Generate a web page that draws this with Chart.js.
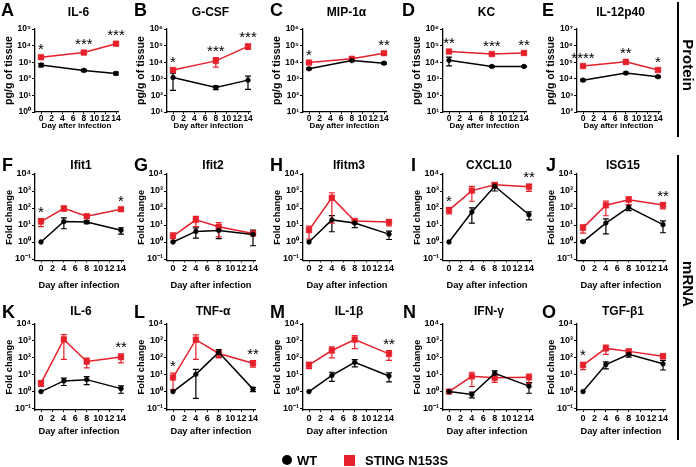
<!DOCTYPE html>
<html>
<head>
<meta charset="utf-8">
<script src="https://cdn.jsdelivr.net/npm/chart.js@4.4.1/dist/chart.umd.min.js"></script>
<style>
  body { margin: 0; background: #fff; }
  #fig { position: relative; width: 696px; height: 467px; overflow: hidden; font-family: "Liberation Sans", Arial, sans-serif; color: #000; }
  #fig canvas { position: absolute; }
  .txt { position: absolute; font-weight: bold; line-height: 1; white-space: nowrap; }
  .letter { font-size: 18px; }
  .ttl { font-size: 12px; width: 120px; text-align: center; }
  .side { font-size: 15px; transform: translate(-50%, -50%) rotate(90deg); }
  .vline { position: absolute; width: 1.5px; background: #000; }
</style>
</head>
<body>
<div id="fig"></div>
<script>
// x values
const proteinDays = [0, 8, 14];
const mrnaDays = [0, 4, 8, 14];
const dayTicks = [0, 2, 4, 6, 8, 10, 12, 14];

// y tick decades (powers of ten)
const decadesA = [0, 1, 2, 3, 4, 5];
const decadesBCD = [1, 2, 3, 4, 5, 6];
const decadesE = [2, 3, 4, 5, 6, 7];
const decadesMrna = [-1, 0, 1, 2, 3, 4];

// A  IL-6 (protein)
const wtA = [680, 320, 210],        wtA_sem = [150, 50, 40];
const stA = [2000, 3800, 13000],    stA_sem = [400, 900, 2500];
const starsA = ['*', '***', '***'];
// B  G-CSF
const wtB = [1200, 300, 830],       wtB_sem = [1000, 80, 600];
const stB = [3400, 12000, 90000],   stB_sem = [700, 7000, 30000];
const starsB = ['*', '***', '***'];
// C  MIP-1a
const wtC = [4000, 12500, 8700],    wtC_sem = [400, 1500, 1000];
const stC = [9500, 16000, 35000],   stC_sem = [1000, 1500, 4000];
const starsC = ['*', '', '**'];
// D  KC
const wtD = [13000, 5500, 5500],    wtD_sem = [7000, 500, 400];
const stD = [44000, 31000, 36000],  stD_sem = [8000, 5000, 8000];
const starsD = ['**', '***', '**'];
// E  IL-12p40
const wtE = [8300, 22000, 13400],   wtE_sem = [1000, 3000, 1500];
const stE = [59000, 105000, 34000], stE_sem = [8000, 30000, 6000];
const starsE = ['****', '**', '*'];

// F  Ifit1
const wtF = [1, 16, 15, 4.9],       wtF_sem = [0, 10, 3, 2];
const stF = [16, 95, 33, 85],       stF_sem = [8, 30, 8, 15];
const starsF = ['*', '', '', '*'];
// G  Ifit2
const wtG = [1, 4.2, 4.8, 2.8],     wtG_sem = [0, 2.5, 3.2, 2.2];
const stG = [2.2, 20, 8, 3.2],      stG_sem = [1.2, 12, 6, 0.6];
const starsG = ['', '', '', ''];
// H  Ifitm3
const wtH = [1, 20, 13, 2.9],       wtH_sem = [0, 16, 6, 1.5];
const stH = [5, 400, 17, 15],       stH_sem = [3.5, 387, 5, 6];
const starsH = ['', '', '', ''];
// I  CXCL10
const wtI = [1, 58, 1900, 40],      wtI_sem = [0, 45, 900, 20];
const stI = [75, 1050, 2300, 1750], stI_sem = [30, 800, 700, 800];
const starsI = ['*', '', '', '**'];
// J  ISG15
const wtJ = [1.05, 13, 110, 10.5],  wtJ_sem = [0.1, 10, 40, 7];
const stJ = [6.8, 145, 310, 150],   stJ_sem = [3.5, 110, 150, 60];
const starsJ = ['', '', '', '**'];
// K  IL-6 (mRNA)
const wtK = [1, 4.3, 5.1, 1.5],     wtK_sem = [0, 2, 2.5, 0.7];
const stK = [3.2, 1230, 60, 110],   stK_sem = [1.2, 1150, 35, 60];
const starsK = ['', '', '', '**'];
// L  TNF-a
const wtL = [1, 10.5, 210, 1.4],    wtL_sem = [0, 10.1, 100, 0.4];
const stL = [6.8, 1180, 180, 48],   stL_sem = [5.5, 1100, 80, 20];
const starsL = ['*', '', '', '**'];
// M  IL-1b
const wtM = [1, 9, 54, 8.3],        wtM_sem = [0, 5, 25, 4.5];
const stM = [38, 270, 1200, 170],   stM_sem = [15, 170, 850, 100];
const starsM = ['', '', '', '**'];
// N  IFN-g
const wtN = [1, 0.68, 12, 2.1],     wtN_sem = [0, 0.25, 5, 1.3];
const stN = [1, 8, 6.5, 7],         stN_sem = [0, 6, 3, 4];
const starsN = ['', '', '', ''];
// O  TGF-b1
const wtO = [1, 40, 160, 44],       wtO_sem = [0, 18, 50, 25];
const stO = [37, 360, 240, 125],    stO_sem = [17, 200, 80, 40];
const starsO = ['*', '', '', ''];

const RED = '#e5202a';
const BLACK = '#000';

// layout per row / column
const rows = [
  { top: 29,  dec: 16.6, gap: 0,   range: 75, cTop: 15,  cH: 120, tick: 8.5, tickPad: 0, xFont: 8,   yFont: 10.6, xPad: 4.2, yLabel: 'pg/g of tissue', titleY: 11.5, letterY: 3 },
  { top: 174, dec: 17,   gap: 1.5, range: 80, cTop: 160, cH: 132, tick: 9,   tickPad: 1, xFont: 9.3, yFont: 9.3,  xPad: 1.4, yLabel: 'Fold change',    titleY: 165,  letterY: 158 },
  { top: 324, dec: 16.9, gap: 1.5, range: 80, cTop: 310, cH: 128, tick: 9,   tickPad: 1, xFont: 9.3, yFont: 9.3,  xPad: 0.7, yLabel: 'Fold change',    titleY: 311,  letterY: 305 }
];
const colDay0 = [41, 173, 309, 449, 583];

const panels = [
  { id: 'A', lx: 1,   title: 'IL-6',     days: proteinDays, decades: decadesA,   wt: wtA, wtSem: wtA_sem, st: stA, stSem: stA_sem, stars: starsA },
  { id: 'B', lx: 134, title: 'G-CSF',    days: proteinDays, decades: decadesBCD, wt: wtB, wtSem: wtB_sem, st: stB, stSem: stB_sem, stars: starsB },
  { id: 'C', lx: 270, title: 'MIP-1α',   days: proteinDays, decades: decadesBCD, wt: wtC, wtSem: wtC_sem, st: stC, stSem: stC_sem, stars: starsC },
  { id: 'D', lx: 402, title: 'KC',       days: proteinDays, decades: decadesBCD, wt: wtD, wtSem: wtD_sem, st: stD, stSem: stD_sem, stars: starsD },
  { id: 'E', lx: 542, title: 'IL-12p40', days: proteinDays, decades: decadesE,   wt: wtE, wtSem: wtE_sem, st: stE, stSem: stE_sem, stars: starsE },
  { id: 'F', lx: 2,   title: 'Ifit1',    days: mrnaDays, decades: decadesMrna, wt: wtF, wtSem: wtF_sem, st: stF, stSem: stF_sem, stars: starsF },
  { id: 'G', lx: 134, title: 'Ifit2',    days: mrnaDays, decades: decadesMrna, wt: wtG, wtSem: wtG_sem, st: stG, stSem: stG_sem, stars: starsG },
  { id: 'H', lx: 270, title: 'Ifitm3',   days: mrnaDays, decades: decadesMrna, wt: wtH, wtSem: wtH_sem, st: stH, stSem: stH_sem, stars: starsH },
  { id: 'I', lx: 411, title: 'CXCL10',   days: mrnaDays, decades: decadesMrna, wt: wtI, wtSem: wtI_sem, st: stI, stSem: stI_sem, stars: starsI },
  { id: 'J', lx: 546, title: 'ISG15',    days: mrnaDays, decades: decadesMrna, wt: wtJ, wtSem: wtJ_sem, st: stJ, stSem: stJ_sem, stars: starsJ },
  { id: 'K', lx: 2,   title: 'IL-6',     days: mrnaDays, decades: decadesMrna, wt: wtK, wtSem: wtK_sem, st: stK, stSem: stK_sem, stars: starsK },
  { id: 'L', lx: 134, title: 'TNF-α',    days: mrnaDays, decades: decadesMrna, wt: wtL, wtSem: wtL_sem, st: stL, stSem: stL_sem, stars: starsL },
  { id: 'M', lx: 270, title: 'IL-1β',    days: mrnaDays, decades: decadesMrna, wt: wtM, wtSem: wtM_sem, st: stM, stSem: stM_sem, stars: starsM },
  { id: 'N', lx: 403, title: 'IFN-γ',    days: mrnaDays, decades: decadesMrna, wt: wtN, wtSem: wtN_sem, st: stN, stSem: stN_sem, stars: starsN },
  { id: 'O', lx: 542, title: 'TGF-β1',   days: mrnaDays, decades: decadesMrna, wt: wtO, wtSem: wtO_sem, st: stO, stSem: stO_sem, stars: starsO }
];

Chart.defaults.font.family = '"Liberation Sans", Arial, sans-serif';
Chart.defaults.color = '#000';

const SUP = { '-': '⁻', '0': '⁰', '1': '¹', '2': '²', '3': '³', '4': '⁴', '5': '⁵', '6': '⁶', '7': '⁷', '8': '⁸', '9': '⁹' };
const sup = n => String(n).split('').map(c => SUP[c]).join('');

// mean +/- SEM whiskers, drawn under the lines
const errorBars = {
  id: 'errorBars',
  beforeDatasetsDraw(chart) {
    const { ctx, scales: { x, y } } = chart;
    ctx.save();
    chart.data.datasets.forEach(ds => {
      ctx.strokeStyle = ds.borderColor;
      ctx.lineWidth = 1.2;
      ds.data.forEach((p, j) => {
        const e = ds.sem[j];
        if (!e) return;
        const px = x.getPixelForValue(p.x);
        const lo = Math.max(p.y - e, y.min);
        const yTop = y.getPixelForValue(p.y + e);
        const yBot = y.getPixelForValue(lo);
        ctx.beginPath();
        ctx.moveTo(px, yTop); ctx.lineTo(px, yBot);
        ctx.moveTo(px - 3, yTop); ctx.lineTo(px + 3, yTop);
        if (p.y - e > y.min) { ctx.moveTo(px - 3, yBot); ctx.lineTo(px + 3, yBot); }
        ctx.stroke();
      });
    });
    ctx.restore();
  }
};

// significance asterisks above each time point
const stars = {
  id: 'stars',
  afterDatasetsDraw(chart) {
    const { ctx, scales: { x, y } } = chart;
    const marks = chart.options.plugins.stars.marks;
    ctx.save();
    ctx.font = '15px "Liberation Sans", Arial, sans-serif';
    ctx.fillStyle = '#000';
    ctx.textAlign = 'center';
    ctx.textBaseline = 'alphabetic';
    marks.forEach((m, j) => {
      if (!m) return;
      let top = Infinity, px = 0;
      chart.data.datasets.forEach(ds => {
        const p = ds.data[j];
        px = x.getPixelForValue(p.x);
        top = Math.min(top, y.getPixelForValue(p.y + (ds.sem[j] || 0)));
      });
      ctx.fillText(m, px, top - 2);
    });
    ctx.restore();
  }
};

const fig = document.getElementById('fig');

function addText(cls, text, left, top, extra) {
  const d = document.createElement('div');
  d.className = 'txt ' + cls;
  d.textContent = text;
  d.style.left = left + 'px';
  d.style.top = top + 'px';
  if (extra) Object.assign(d.style, extra);
  fig.appendChild(d);
  return d;
}

panels.forEach((p, i) => {
  const r = rows[Math.floor(i / 5)];
  const day0 = colDay0[i % 5];
  const ppd = r.range / 14;
  const cLeft = day0 - 41;
  const cW = 41 + r.range + 14;
  const chartBottom = r.top + 5 * r.dec + r.gap;
  const xH = r.cTop + r.cH - chartBottom;
  const lowDec = p.decades[0], highDec = p.decades[p.decades.length - 1];

  const cv = document.createElement('canvas');
  cv.width = cW; cv.height = r.cH;
  cv.style.left = cLeft + 'px'; cv.style.top = r.cTop + 'px';
  cv.style.width = cW + 'px'; cv.style.height = r.cH + 'px';
  fig.appendChild(cv);

  addText('letter', p.id, p.lx, r.letterY - 2.3);
  addText('ttl', p.title, day0 + r.range / 2 - 60, r.titleY - 5.9);

  const axisCommon = {
    grid: { display: true, drawOnChartArea: false, drawTicks: true, color: '#000', lineWidth: 1 },
    border: { display: true, color: '#000', width: 1.3 }
  };

  new Chart(cv, {
    type: 'line',
    data: {
      datasets: [
        { label: 'WT', data: p.days.map((d, j) => ({ x: d, y: p.wt[j] })), sem: p.wtSem,
          borderColor: BLACK, backgroundColor: BLACK, pointStyle: 'circle', pointRadius: 2.4, pointBorderWidth: 0.5, borderWidth: 1.5 },
        { label: 'STING N153S', data: p.days.map((d, j) => ({ x: d, y: p.st[j] })), sem: p.stSem,
          borderColor: RED, backgroundColor: RED, pointStyle: 'rect', pointRadius: 4, pointBorderWidth: 0.5, borderWidth: 1.5 }
      ]
    },
    options: {
      responsive: false,
      animation: false,
      clip: false,
      layout: { padding: { top: r.top - r.cTop, left: 0, right: cW - (41 + r.range + 2), bottom: 0 } },
      elements: { line: { tension: 0 } },
      plugins: { legend: { display: false }, tooltip: { enabled: false }, stars: { marks: p.stars } },
      scales: {
        x: {
          ...axisCommon,
          type: 'linear',
          min: -6 / ppd,
          max: 14 + 2 / ppd,
          afterFit: s => { s.height = xH; },
          afterBuildTicks: s => { s.ticks = dayTicks.map(v => ({ value: v })); },
          grid: { ...axisCommon.grid, tickLength: 2 },
          ticks: { font: { size: r.tick, weight: 'bold' }, color: '#000', padding: r.tickPad, maxRotation: 0, autoSkip: false },
          title: { display: true, text: 'Day after infection', font: { size: r.xFont, weight: 'bold' }, color: '#000', padding: { top: 0, bottom: r.xPad } }
        },
        y: {
          ...axisCommon,
          type: 'logarithmic',
          min: Math.pow(10, lowDec) / Math.pow(10, r.gap / r.dec),
          max: Math.pow(10, highDec),
          afterFit: s => { s.width = 35; },
          afterBuildTicks: s => { s.ticks = p.decades.map(e => ({ value: Math.pow(10, e) })); },
          grid: { ...axisCommon.grid, tickLength: 3 },
          ticks: { font: { size: r.tick, weight: 'bold' }, color: '#000', padding: 1, autoSkip: false,
                   callback: v => '10' + sup(Math.round(Math.log10(v))) },
          title: { display: true, text: r.yLabel, font: { size: r.yFont, weight: 'bold' }, color: '#000',
                   padding: { top: 9 - r.yFont * 0.6, bottom: 0 } }
        }
      }
    },
    plugins: [errorBars, stars]
  });
});

// side brackets
[[2, 137], [155, 440]].forEach(([t, b]) => {
  const l = document.createElement('div');
  l.className = 'vline';
  l.style.left = '677px'; l.style.top = t + 'px'; l.style.height = (b - t) + 'px';
  fig.appendChild(l);
});
addText('side', 'Protein', 688, 65);
addText('side', 'mRNA', 688, 284);

// legend
const dot = document.createElement('div');
Object.assign(dot.style, { position: 'absolute', left: '282px', top: '455px', width: '10px', height: '10px', borderRadius: '50%', background: BLACK });
fig.appendChild(dot);
const sq = document.createElement('div');
Object.assign(sq.style, { position: 'absolute', left: '344px', top: '455px', width: '11px', height: '11px', background: RED });
fig.appendChild(sq);
addText('', 'WT', 297, 460 - 6.4, { fontSize: '13px' });
addText('', 'STING N153S', 365, 460 - 6.4, { fontSize: '13px' });
</script>
</body>
</html>
